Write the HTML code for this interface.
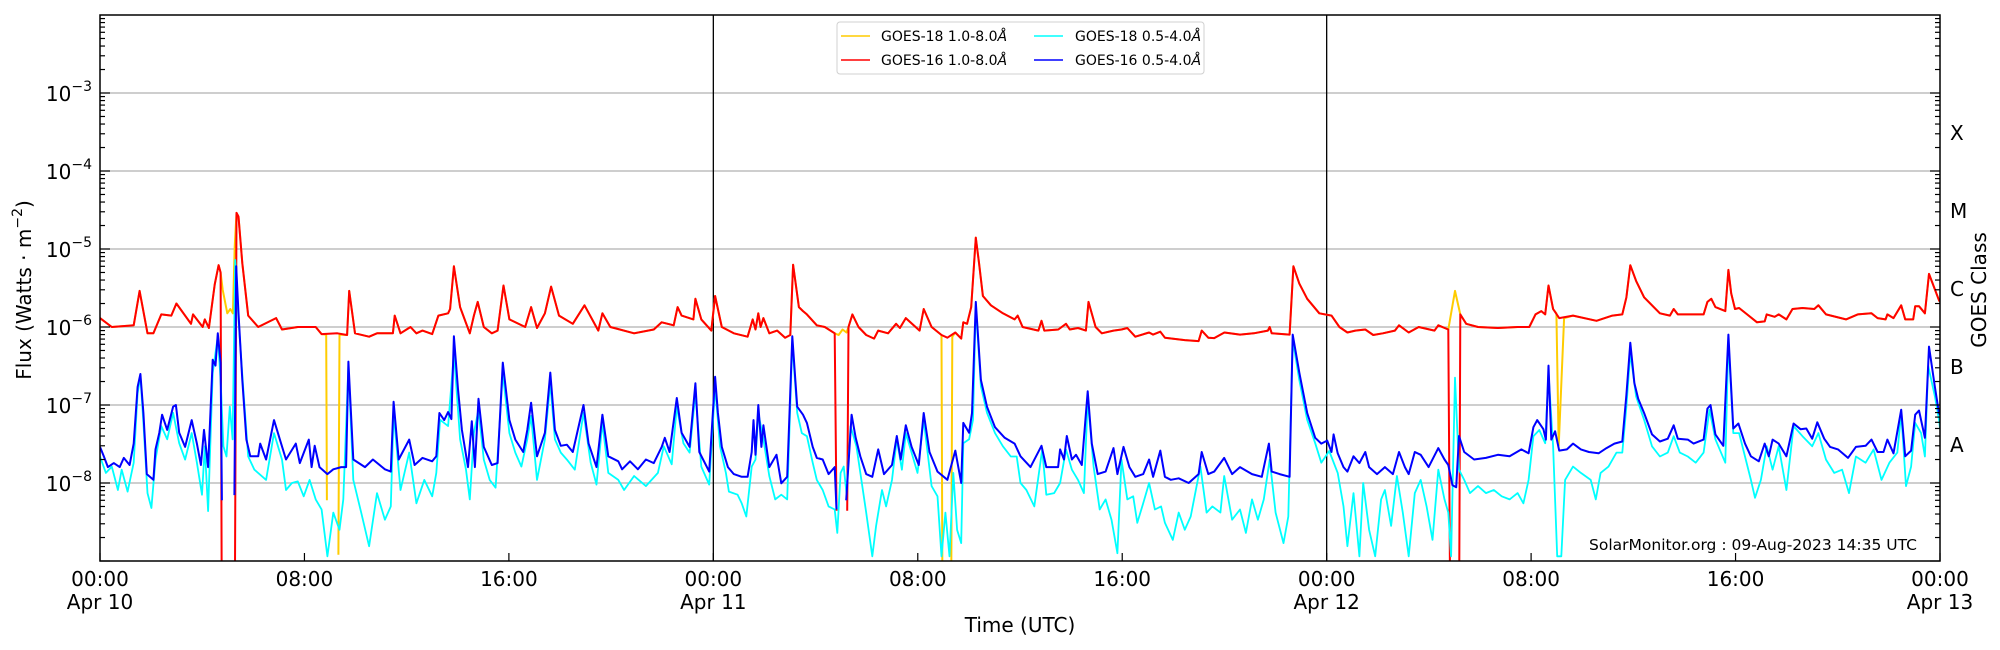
<!DOCTYPE html>
<html><head><meta charset="utf-8"><style>
html,body{margin:0;padding:0;background:#fff;}
svg{display:block;font-family:"DejaVu Sans","Liberation Sans",sans-serif;}
</style></head><body>
<svg id="chart" width="2000" height="650" viewBox="0 0 2000 650" xmlns="http://www.w3.org/2000/svg">
<defs><clipPath id="plotclip"><rect x="100" y="15" width="1840" height="546"/></clipPath></defs>
<rect x="0" y="0" width="2000" height="650" fill="#fff"/>
<g id="grid"></g>
<g id="series" clip-path="url(#plotclip)"></g>
<g id="axes"></g>
<text x="1020" y="632" font-size="20" text-anchor="middle">Time (UTC)</text>
<text transform="translate(31,290) rotate(-90)" font-size="20" text-anchor="middle">Flux (Watts · m<tspan dy="-9" font-size="14">−2</tspan><tspan dy="9">)</tspan></text>
<text transform="translate(1986,290) rotate(-90)" font-size="20" text-anchor="middle">GOES Class</text>
<text x="1917" y="550" font-size="15.5" text-anchor="end">SolarMonitor.org : 09-Aug-2023 14:35 UTC</text>
<g>
<rect x="837" y="22" width="367" height="52" fill="#fff" stroke="#d0d0d0" stroke-width="1" rx="3"/>
<line x1="841" y1="36" x2="870" y2="36" stroke="#ffcc00" stroke-width="1.5"/>
<text x="881" y="41" font-size="14">GOES-18 1.0-8.0<tspan font-style="italic">Å</tspan></text>
<line x1="841" y1="60" x2="870" y2="60" stroke="#ff0000" stroke-width="1.5"/>
<text x="881" y="65" font-size="14">GOES-16 1.0-8.0<tspan font-style="italic">Å</tspan></text>
<line x1="1034" y1="36" x2="1063" y2="36" stroke="#00ffff" stroke-width="1.5"/>
<text x="1075" y="41" font-size="14">GOES-18 0.5-4.0<tspan font-style="italic">Å</tspan></text>
<line x1="1034" y1="60" x2="1063" y2="60" stroke="#0000ff" stroke-width="1.5"/>
<text x="1075" y="65" font-size="14">GOES-16 0.5-4.0<tspan font-style="italic">Å</tspan></text>
</g>
</svg>
<script>
// ---- data (time in hours since 00:00 Apr 10) ----
const xTickHours = [0,8,16,24,32,40,48,56,64,72];
const xTickTimes = ["00:00","08:00","16:00","00:00","08:00","16:00","00:00","08:00","16:00","00:00"];
const xTickDates = ["Apr 10","","","Apr 11","","","Apr 12","","","Apr 13"];
const yTickExps = [-8,-7,-6,-5,-4,-3];
const classLabels = ["A","B","C","M","X"];
const classExps = [-8,-7,-6,-5,-4];
const dayLineHours = [24,48];

const g16LongT = [0,0.46,1.32,1.55,1.86,2.09,2.4,2.79,2.99,3.56,3.64,4.02,4.1,4.26,4.49,4.64,4.72,4.77,5.27,5.34,5.42,5.57,5.8,6.19,6.89,7.12,7.74,8.44,8.67,9.29,9.67,9.75,9.98,10.53,10.84,11.46,11.53,11.76,12.15,12.38,12.62,13.0,13.24,13.62,13.7,13.85,14.09,14.47,14.63,14.78,15.02,15.33,15.56,15.79,16.02,16.64,16.87,17.1,17.41,17.65,17.96,18.5,18.96,19.5,19.66,19.97,20.12,20.9,21.67,21.98,22.45,22.6,22.76,23.22,23.3,23.53,23.92,24.07,24.33,24.8,25.34,25.54,25.65,25.76,25.85,25.96,26.19,26.5,26.81,27.01,27.12,27.35,27.51,27.66,28.05,28.36,28.75,28.82,29.0,29.24,29.29,29.44,29.68,29.98,30.29,30.45,30.84,31.15,31.3,31.53,32.07,32.23,32.54,32.93,33.16,33.47,33.7,33.78,33.93,34.09,34.27,34.4,34.55,34.86,35.33,35.79,35.91,36.1,36.72,36.84,36.95,37.5,37.8,37.95,38.27,38.58,38.68,38.96,39.2,39.66,39.97,40.2,40.51,41.05,41.21,41.49,41.67,42.45,42.99,43.11,43.37,43.6,44.0,44.61,45.15,45.7,45.77,45.85,46.55,46.7,46.93,47.24,47.71,48.19,48.5,48.81,49.12,49.51,49.82,50.2,50.67,50.83,51.21,51.6,52.22,52.37,52.76,52.84,53.18,53.23,53.46,53.92,54.7,55.47,55.93,56.17,56.4,56.55,56.68,56.86,57.1,57.64,58.56,59.18,59.57,59.73,59.88,60.11,60.42,61.04,61.43,61.58,61.74,62.28,62.75,62.9,63.05,63.21,63.6,63.72,63.83,63.98,64.14,64.45,64.84,65.14,65.22,65.53,65.69,65.99,66.23,66.62,67.08,67.24,67.54,68.32,68.78,69.32,69.56,69.87,69.94,70.18,70.48,70.64,70.95,71.03,71.18,71.41,71.57,71.96,72];
const g16LongV = [1.3e-6,1.0e-6,1.05e-6,2.9e-6,8.3e-7,8.3e-7,1.45e-6,1.4e-6,2.0e-6,1.1e-6,1.45e-6,1.0e-6,1.25e-6,9.7e-7,3.5e-6,6.2e-6,5e-6,1e-10,1e-10,2.9e-5,2.6e-5,6.6e-6,1.4e-6,1e-6,1.3e-6,9.3e-7,1e-6,1e-6,8.1e-7,8.3e-7,7.9e-7,2.9e-6,8.3e-7,7.5e-7,8.3e-7,8.3e-7,1.4e-6,8.3e-7,1e-6,8.3e-7,9e-7,8.1e-7,1.4e-6,1.5e-6,1.7e-6,6.0e-6,1.8e-6,8.3e-7,1.4e-6,2.1e-6,1e-6,8.3e-7,9e-7,3.4e-6,1.25e-6,1e-6,1.8e-6,9.7e-7,1.5e-6,3.3e-6,1.4e-6,1.1e-6,1.9e-6,9e-7,1.5e-6,1e-6,9.7e-7,8.3e-7,9.3e-7,1.15e-6,1.05e-6,1.8e-6,1.4e-6,1.25e-6,2.3e-6,1.25e-6,9e-7,2.5e-6,1e-6,8.3e-7,7.5e-7,1.25e-6,9.3e-7,1.5e-6,1e-6,1.3e-6,8.3e-7,9e-7,7.3e-7,7.9e-7,6.3e-6,1.8e-6,1.6e-6,1.45e-6,1.05e-6,1e-6,8.3e-7,4.4e-9,null,4.4e-9,1e-6,1.45e-6,1e-6,7.9e-7,7.1e-7,9e-7,8.3e-7,1.1e-6,9.7e-7,1.3e-6,9e-7,1.7e-6,1e-6,7.9e-7,7.3e-7,8.5e-7,7.1e-7,1.15e-6,1.1e-6,1.8e-6,1.4e-5,6.5e-6,2.5e-6,1.9e-6,1.5e-6,1.25e-6,1.4e-6,1e-6,9e-7,1.2e-6,9e-7,9.3e-7,1.1e-6,9.3e-7,9.7e-7,9e-7,2.1e-6,1e-6,8.3e-7,9e-7,9.3e-7,9.7e-7,7.5e-7,8.5e-7,8e-7,8.7e-7,7.3e-7,6.8e-7,6.6e-7,9e-7,7.3e-7,7.2e-7,8.5e-7,8e-7,8.3e-7,9e-7,1e-6,8.3e-7,8e-7,6e-6,3.6e-6,2.3e-6,1.5e-6,1.4e-6,1e-6,8.5e-7,9e-7,9.3e-7,7.9e-7,8.3e-7,9e-7,1.05e-6,8.5e-7,1e-6,9e-7,1.05e-6,9.3e-7,1e-10,1e-10,1.45e-6,1.1e-6,1e-6,9.7e-7,1e-6,1e-6,1.45e-6,1.6e-6,1.45e-6,3.4e-6,1.7e-6,1.3e-6,1.4e-6,1.2e-6,1.4e-6,1.45e-6,2.4e-6,6.2e-6,3.9e-6,2.4e-6,1.5e-6,1.4e-6,1.7e-6,1.45e-6,1.45e-6,1.45e-6,2.1e-6,2.3e-6,1.8e-6,1.6e-6,5.4e-6,2.7e-6,1.7e-6,1.75e-6,1.45e-6,1.15e-6,1.18e-6,1.45e-6,1.35e-6,1.45e-6,1.25e-6,1.7e-6,1.75e-6,1.7e-6,1.9e-6,1.45e-6,1.25e-6,1.45e-6,1.5e-6,1.3e-6,1.25e-6,1.45e-6,1.3e-6,1.9e-6,1.25e-6,1.25e-6,1.85e-6,1.85e-6,1.5e-6,4.8e-6,2.2e-6,2.1e-6];

const g18LongT = [0,0.46,1.32,1.55,1.86,2.09,2.4,2.79,2.99,3.56,3.64,4.02,4.1,4.26,4.49,4.64,4.72,4.8,4.98,5.1,5.2,5.27,5.34,5.42,5.57,5.8,6.19,6.89,7.12,7.74,8.44,8.67,8.85,8.88,9.1,9.33,9.37,9.67,9.75,9.98,10.53,10.84,11.46,11.53,11.76,12.15,12.38,12.62,13.0,13.24,13.62,13.7,13.85,14.09,14.47,14.63,14.78,15.02,15.33,15.56,15.79,16.02,16.64,16.87,17.1,17.41,17.65,17.96,18.5,18.96,19.5,19.66,19.97,20.12,20.9,21.67,21.98,22.45,22.6,22.76,23.22,23.3,23.53,23.92,24.07,24.33,24.8,25.34,25.54,25.65,25.76,25.85,25.96,26.19,26.5,26.81,27.01,27.12,27.35,27.51,27.66,28.05,28.36,28.75,28.9,29.06,29.21,29.29,29.44,29.68,29.98,30.29,30.45,30.84,31.15,31.3,31.53,32.07,32.23,32.54,32.93,32.97,33.3,33.35,33.47,33.7,33.78,33.93,34.09,34.27,34.4,34.55,34.86,35.33,35.79,35.91,36.1,36.72,36.84,36.95,37.5,37.8,37.95,38.27,38.58,38.68,38.96,39.2,39.66,39.97,40.2,40.51,41.05,41.21,41.49,41.67,42.45,42.99,43.11,43.37,43.6,44.0,44.61,45.15,45.7,45.77,45.85,46.55,46.7,46.93,47.24,47.71,48.19,48.5,48.81,49.12,49.51,49.82,50.2,50.67,50.83,51.21,51.6,52.22,52.37,52.76,53.02,53.23,53.46,53.92,54.7,55.47,55.93,56.17,56.4,56.55,56.68,56.86,56.99,57.08,57.29,57.64,58.56,59.18,59.57,59.73,59.88,60.11,60.42,61.04,61.43,61.58,61.74,62.28,62.75,62.9,63.05,63.21,63.6,63.72,63.83,63.98,64.14,64.45,64.84,65.14,65.22,65.53,65.69,65.99,66.23,66.62,67.08,67.24,67.54,68.32,68.78,69.32,69.56,69.87,69.94,70.18,70.48,70.64,70.95,71.03,71.18,71.41,71.57,71.96,72];
const g18LongV = [1.3e-6,1.0e-6,1.05e-6,2.9e-6,8.3e-7,8.3e-7,1.45e-6,1.4e-6,2.0e-6,1.1e-6,1.45e-6,1.0e-6,1.25e-6,9.7e-7,3.5e-6,6.2e-6,5e-6,3e-6,1.5e-6,1.7e-6,1.5e-6,1.07e-5,2.9e-5,2.6e-5,6.6e-6,1.4e-6,1e-6,1.3e-6,9.3e-7,1e-6,1e-6,8.1e-7,8e-7,6e-9,null,1.2e-9,8e-7,7.9e-7,2.9e-6,8.3e-7,7.5e-7,8.3e-7,8.3e-7,1.4e-6,8.3e-7,1e-6,8.3e-7,9e-7,8.1e-7,1.4e-6,1.5e-6,1.7e-6,6.0e-6,1.8e-6,8.3e-7,1.4e-6,2.1e-6,1e-6,8.3e-7,9e-7,3.4e-6,1.25e-6,1e-6,1.8e-6,9.7e-7,1.5e-6,3.3e-6,1.4e-6,1.1e-6,1.9e-6,9e-7,1.5e-6,1e-6,9.7e-7,8.3e-7,9.3e-7,1.15e-6,1.05e-6,1.8e-6,1.4e-6,1.25e-6,2.3e-6,1.25e-6,9e-7,2.5e-6,1e-6,8.3e-7,7.5e-7,1.25e-6,9.3e-7,1.5e-6,1e-6,1.3e-6,8.3e-7,9e-7,7.3e-7,7.9e-7,6.3e-6,1.8e-6,1.6e-6,1.45e-6,1.05e-6,1e-6,8.3e-7,7.9e-7,9.3e-7,8.5e-7,1e-6,1.45e-6,1e-6,7.9e-7,7.1e-7,9e-7,8.3e-7,1.1e-6,9.7e-7,1.3e-6,9e-7,1.7e-6,1e-6,7.9e-7,1e-10,1e-10,7.5e-7,8.5e-7,7.1e-7,1.15e-6,1.1e-6,1.8e-6,1.4e-5,6.5e-6,2.5e-6,1.9e-6,1.5e-6,1.25e-6,1.4e-6,1e-6,9e-7,1.2e-6,9e-7,9.3e-7,1.1e-6,9.3e-7,9.7e-7,9e-7,2.1e-6,1e-6,8.3e-7,9e-7,9.3e-7,9.7e-7,7.5e-7,8.5e-7,8e-7,8.7e-7,7.3e-7,6.8e-7,6.6e-7,9e-7,7.3e-7,7.2e-7,8.5e-7,8e-7,8.3e-7,9e-7,1e-6,8.3e-7,8e-7,6e-6,3.6e-6,2.3e-6,1.5e-6,1.4e-6,1e-6,8.5e-7,9e-7,9.3e-7,7.9e-7,8.3e-7,9e-7,1.05e-6,8.5e-7,1e-6,9e-7,1.05e-6,9.3e-7,2.9e-6,1.45e-6,1.1e-6,1e-6,9.7e-7,1e-6,1e-6,1.45e-6,1.6e-6,1.45e-6,3.4e-6,1.7e-6,1.5e-6,3e-8,1.3e-6,1.4e-6,1.2e-6,1.4e-6,1.45e-6,2.4e-6,6.2e-6,3.9e-6,2.4e-6,1.5e-6,1.4e-6,1.7e-6,1.45e-6,1.45e-6,1.45e-6,2.1e-6,2.3e-6,1.8e-6,1.6e-6,5.4e-6,2.7e-6,1.7e-6,1.75e-6,1.45e-6,1.15e-6,1.18e-6,1.45e-6,1.35e-6,1.45e-6,1.25e-6,1.7e-6,1.75e-6,1.7e-6,1.9e-6,1.45e-6,1.25e-6,1.45e-6,1.5e-6,1.3e-6,1.25e-6,1.45e-6,1.3e-6,1.9e-6,1.25e-6,1.25e-6,1.85e-6,1.85e-6,1.5e-6,4.8e-6,2.2e-6,2.1e-6];

const g16ShortT = [0,0.15,0.31,0.54,0.77,0.93,1.16,1.32,1.47,1.58,1.7,1.83,2.09,2.17,2.32,2.43,2.63,2.86,2.97,3.1,3.33,3.59,3.79,3.95,4.07,4.23,4.41,4.52,4.61,4.72,4.77,5.0,5.26,5.33,5.42,5.57,5.73,5.88,6.19,6.27,6.5,6.81,7.04,7.28,7.66,7.82,8.17,8.28,8.4,8.59,8.9,9.13,9.44,9.63,9.72,9.91,10.37,10.68,11.15,11.38,11.49,11.69,12.1,12.31,12.62,13.0,13.16,13.28,13.47,13.62,13.75,13.85,14.01,14.16,14.4,14.55,14.67,14.81,15.02,15.33,15.56,15.76,16.02,16.25,16.56,16.72,16.87,17.1,17.41,17.62,17.8,18.03,18.27,18.5,18.92,19.12,19.43,19.66,19.89,20.28,20.43,20.74,21.05,21.36,21.67,21.98,22.1,22.29,22.57,22.76,23.07,23.3,23.45,23.84,24.07,24.18,24.33,24.57,24.8,25.11,25.34,25.5,25.57,25.65,25.76,25.88,25.96,26.19,26.47,26.66,26.89,27.09,27.28,27.51,27.66,27.89,28.05,28.28,28.51,28.75,28.82,29.0,29.2,29.41,29.57,29.75,29.98,30.22,30.45,30.68,30.99,31.18,31.33,31.53,31.76,32.04,32.23,32.46,32.77,33.16,33.47,33.7,33.78,34.01,34.12,34.27,34.47,34.71,35.02,35.4,35.79,36.02,36.41,36.84,37.03,37.49,37.57,37.72,37.83,38.03,38.19,38.42,38.65,38.81,39.04,39.35,39.66,39.81,40.05,40.28,40.51,40.82,41.05,41.21,41.49,41.67,41.9,42.21,42.6,42.99,43.11,43.37,43.6,43.99,44.3,44.61,45.08,45.46,45.74,45.85,46.16,46.55,46.67,46.93,47.24,47.55,47.79,48.02,48.19,48.27,48.43,48.66,48.81,49.05,49.28,49.51,49.66,49.97,50.28,50.59,50.83,51.06,51.21,51.45,51.68,51.99,52.37,52.61,52.76,52.92,53.07,53.18,53.38,53.77,54.23,54.7,55.16,55.62,55.9,56.09,56.24,56.48,56.58,56.68,56.79,56.94,57.1,57.4,57.64,57.95,58.26,58.64,58.95,59.26,59.57,59.73,59.88,60.04,60.19,60.42,60.73,61.04,61.35,61.58,61.74,62.13,62.36,62.75,62.9,63.02,63.21,63.52,63.72,63.91,64.11,64.37,64.6,64.91,65.14,65.3,65.45,65.69,65.99,66.27,66.54,66.77,67.0,67.2,67.47,67.7,68.01,68.4,68.71,69.09,69.32,69.56,69.79,69.94,70.18,70.48,70.64,70.87,71.03,71.18,71.41,71.57,71.8,71.96,72];
const g16ShortV = [2.9e-8,2.2e-8,1.6e-8,1.8e-8,1.6e-8,2.1e-8,1.7e-8,3.2e-8,1.7e-7,2.5e-7,7.9e-8,1.3e-8,1.1e-8,2.7e-8,4.4e-8,7.5e-8,4.8e-8,9.5e-8,1e-7,4.4e-8,2.9e-8,6.4e-8,3.2e-8,1.7e-8,4.8e-8,1.6e-8,3.8e-7,3.2e-7,8.3e-7,3.5e-7,6e-9,null,7e-9,6e-6,1.5e-6,2.1e-7,3.6e-8,2.2e-8,2.2e-8,3.2e-8,2e-8,6.4e-8,3.6e-8,2e-8,3.2e-8,1.8e-8,3.6e-8,1.6e-8,3e-8,1.6e-8,1.3e-8,1.5e-8,1.6e-8,1.6e-8,3.6e-7,2e-8,1.6e-8,2e-8,1.5e-8,1.4e-8,1.1e-7,2e-8,3.6e-8,1.7e-8,2.1e-8,1.9e-8,2.2e-8,7.9e-8,6.4e-8,8.1e-8,6.6e-8,7.6e-7,1.6e-7,4.8e-8,1.6e-8,6.2e-8,1.6e-8,1.2e-7,2.9e-8,1.7e-8,1.8e-8,3.5e-7,6.4e-8,3.6e-8,2.5e-8,4.8e-8,1.07e-7,2.2e-8,4.4e-8,2.6e-7,4.8e-8,3e-8,3.1e-8,2.5e-8,1e-7,3.2e-8,1.6e-8,7.5e-8,2.2e-8,1.9e-8,1.5e-8,1.9e-8,1.5e-8,2e-8,1.8e-8,2.9e-8,3.8e-8,2.5e-8,1.23e-7,4.4e-8,2.9e-8,1.9e-7,2.5e-8,1.4e-8,2.3e-7,7.9e-8,2.9e-8,1.6e-8,1.3e-8,1.2e-8,1.2e-8,2.5e-8,6.4e-8,2.3e-8,1e-7,2.9e-8,5.5e-8,1.6e-8,2.3e-8,9.9e-9,1.2e-8,7.6e-7,9.5e-8,7.5e-8,5.9e-8,2.9e-8,2.1e-8,2e-8,1.3e-8,1.6e-8,4.6e-9,null,6e-9,7.5e-8,3.8e-8,2.2e-8,1.3e-8,1.2e-8,2.7e-8,1.3e-8,1.7e-8,4e-8,2e-8,5.5e-8,2.9e-8,1.7e-8,7.9e-8,2.5e-8,1.4e-8,1.1e-8,2.6e-8,1e-8,5.9e-8,4.4e-8,7.9e-8,2.1e-6,2.1e-7,9.5e-8,5.2e-8,3.8e-8,3.2e-8,2.2e-8,1.6e-8,3e-8,1.6e-8,1.6e-8,2.7e-8,2e-8,4e-8,2e-8,2.3e-8,1.7e-8,1.5e-7,3.2e-8,1.3e-8,1.4e-8,2.8e-8,1.3e-8,2.9e-8,1.6e-8,1.2e-8,1.3e-8,2e-8,1.2e-8,2.6e-8,1.2e-8,1.1e-8,1.15e-8,1e-8,1.3e-8,2.5e-8,1.3e-8,1.4e-8,2.1e-8,1.3e-8,1.6e-8,1.3e-8,1.2e-8,3.2e-8,1.4e-8,1.3e-8,1.2e-8,8e-7,2.6e-7,7.9e-8,3.8e-8,3.2e-8,3.5e-8,2.5e-8,4.2e-8,2.4e-8,1.6e-8,1.4e-8,2.2e-8,1.8e-8,2.5e-8,1.6e-8,1.3e-8,1.6e-8,1.3e-8,2.5e-8,1.6e-8,1.3e-8,2.5e-8,2.3e-8,1.6e-8,2.8e-8,2e-8,1.7e-8,9.4e-9,8.8e-9,4e-8,2.5e-8,2e-8,2.1e-8,2.3e-8,2.2e-8,2.7e-8,2.4e-8,5.2e-8,6.4e-8,4.9e-8,3.6e-8,3.2e-7,3.6e-8,4.6e-8,2.6e-8,2.7e-8,3.2e-8,2.7e-8,2.5e-8,2.4e-8,2.8e-8,3.2e-8,3.4e-8,1.35e-7,6.3e-7,1.9e-7,1.2e-7,7.9e-8,4.2e-8,3.4e-8,3.7e-8,5.5e-8,3.7e-8,3.6e-8,3.2e-8,3.6e-8,9e-8,1e-7,4.2e-8,3e-8,8e-7,5e-8,5.8e-8,3.2e-8,2.2e-8,1.9e-8,3.2e-8,2.2e-8,3.6e-8,3.2e-8,2.2e-8,5.8e-8,4.9e-8,5e-8,3.7e-8,6e-8,3.7e-8,2.9e-8,2.7e-8,2.1e-8,2.9e-8,3e-8,3.6e-8,2.5e-8,2.5e-8,3.6e-8,2.4e-8,8.7e-8,2.2e-8,2.6e-8,7.5e-8,8.5e-8,3.8e-8,5.6e-7,1.7e-7,7.9e-8,7.5e-8];

const g18ShortT = [0,0.23,0.46,0.7,0.85,1.08,1.32,1.47,1.58,1.7,1.86,2.01,2.17,2.4,2.63,2.86,3.1,3.33,3.59,3.79,3.99,4.1,4.23,4.41,4.61,4.72,4.83,4.95,5.08,5.19,5.29,5.42,5.6,5.8,6.04,6.5,6.81,7.12,7.28,7.51,7.74,7.97,8.2,8.44,8.67,8.9,9.13,9.37,9.52,9.72,9.91,10.22,10.53,10.84,11.15,11.38,11.49,11.76,12.1,12.38,12.69,13.0,13.16,13.31,13.62,13.85,14.09,14.32,14.47,14.63,14.81,15.02,15.25,15.48,15.76,16.02,16.25,16.49,16.72,16.87,17.1,17.41,17.62,17.8,18.03,18.27,18.58,18.92,19.2,19.43,19.66,19.89,20.28,20.51,20.9,21.36,21.83,22.06,22.37,22.57,22.83,23.07,23.3,23.53,23.84,24.07,24.26,24.49,24.61,24.95,25.11,25.29,25.5,25.65,25.76,25.96,26.19,26.42,26.66,26.89,27.09,27.28,27.46,27.66,27.89,28.05,28.28,28.51,28.75,28.85,28.98,29.1,29.21,29.37,29.6,29.83,29.98,30.22,30.37,30.6,30.76,30.99,31.18,31.38,31.53,31.76,31.99,32.23,32.54,32.77,32.93,33.08,33.24,33.39,33.54,33.7,33.78,34.01,34.16,34.27,34.47,34.71,35.02,35.33,35.64,35.87,36.02,36.25,36.56,36.87,37.03,37.34,37.57,37.8,38.03,38.27,38.5,38.65,38.88,39.12,39.35,39.58,39.81,39.97,40.2,40.43,40.59,40.82,41.05,41.28,41.52,41.67,41.98,42.21,42.45,42.68,43.06,43.3,43.53,43.84,43.99,44.3,44.61,44.84,45.08,45.31,45.54,45.77,46.0,46.31,46.5,46.67,46.93,47.24,47.55,47.79,48.1,48.43,48.66,48.81,49.05,49.28,49.43,49.66,49.9,50.13,50.28,50.52,50.75,50.98,51.21,51.45,51.68,51.91,52.14,52.37,52.61,52.76,52.87,53.02,53.18,53.38,53.61,53.92,54.23,54.54,54.85,55.16,55.47,55.7,55.9,56.09,56.32,56.55,56.68,56.86,57.02,57.18,57.33,57.64,57.95,58.33,58.53,58.72,59.03,59.34,59.57,59.73,59.88,60.11,60.42,60.73,61.04,61.35,61.58,61.82,62.13,62.44,62.75,62.98,63.21,63.6,63.72,63.91,64.14,64.37,64.6,64.76,64.99,65.22,65.45,65.69,65.99,66.27,66.62,67.0,67.24,67.54,67.86,68.17,68.44,68.71,69.09,69.4,69.71,70.02,70.33,70.48,70.67,70.87,71.03,71.26,71.41,71.54,71.8,71.96,72];
const g18ShortLog = [-7.66,-7.87,-7.79,-8.09,-7.83,-8.11,-7.74,-6.85,-6.63,-7.23,-8.13,-8.32,-7.7,-7.27,-7.44,-7.1,-7.49,-7.7,-7.36,-7.74,-8.15,-7.53,-8.36,-6.59,-6.12,-6.68,-7.53,-7.66,-7.02,-7.44,-5.14,-5.9,-6.76,-7.66,-7.83,-7.96,-7.36,-7.7,-8.09,-8.0,-7.98,-8.17,-7.96,-8.21,-8.34,-8.94,-8.38,-8.6,-8.21,-6.5,-7.96,-8.38,-8.81,-8.13,-8.47,-8.3,-7.1,-8.09,-7.61,-8.26,-7.96,-8.17,-7.87,-7.19,-7.27,-6.33,-7.44,-7.83,-8.21,-7.36,-7.06,-7.7,-7.96,-8.06,-6.59,-7.36,-7.61,-7.79,-7.44,-7.14,-7.96,-7.44,-6.72,-7.44,-7.61,-7.7,-7.83,-7.1,-7.74,-8.02,-7.23,-7.87,-7.96,-8.09,-7.91,-8.04,-7.87,-7.53,-7.76,-7.02,-7.49,-7.61,-6.85,-7.79,-8.02,-6.76,-7.53,-7.87,-8.11,-8.15,-8.26,-8.43,-7.79,-7.7,-7.1,-7.44,-7.91,-8.21,-8.15,-8.21,-6.2,-7.1,-7.36,-7.4,-7.74,-7.96,-8.09,-8.3,-8.34,-8.64,-7.87,-7.79,-8.13,-7.27,-7.53,-8.04,-8.38,-8.94,-8.55,-8.09,-8.3,-7.96,-7.44,-7.83,-7.36,-7.61,-7.87,-7.19,-8.04,-8.17,-8.94,-8.38,-8.94,-7.87,-8.6,-8.77,-7.49,-7.44,-7.19,-5.73,-6.76,-7.1,-7.36,-7.53,-7.66,-7.66,-8.0,-8.09,-8.3,-7.57,-8.15,-8.13,-8.0,-7.57,-7.83,-7.96,-8.13,-6.93,-7.79,-8.34,-8.21,-8.47,-8.9,-7.7,-8.21,-8.17,-8.51,-8.26,-8.0,-8.34,-8.3,-8.51,-8.73,-8.38,-8.6,-8.43,-7.79,-8.38,-8.3,-8.38,-7.91,-8.47,-8.34,-8.64,-8.21,-8.47,-8.21,-7.7,-8.38,-8.77,-8.43,-6.16,-6.68,-7.19,-7.49,-7.74,-7.59,-7.87,-8.3,-8.81,-8.13,-8.94,-8.0,-8.6,-8.94,-8.21,-8.09,-8.55,-7.91,-8.38,-8.94,-8.13,-7.96,-8.3,-8.73,-7.83,-8.21,-8.38,-8.94,-6.65,-7.83,-7.96,-8.13,-8.04,-8.13,-8.09,-8.17,-8.21,-8.13,-8.26,-7.96,-7.4,-7.32,-7.49,-6.59,-7.53,-8.94,-8.94,-7.96,-7.79,-7.87,-7.96,-8.21,-7.87,-7.79,-7.61,-7.61,-7.02,-6.33,-6.89,-7.19,-7.53,-7.66,-7.61,-7.4,-7.61,-7.66,-7.74,-7.61,-7.06,-7.44,-7.74,-6.16,-7.36,-7.36,-7.66,-7.96,-8.19,-7.96,-7.53,-7.83,-7.53,-8.09,-7.27,-7.4,-7.53,-7.36,-7.7,-7.87,-7.83,-8.13,-7.66,-7.74,-7.57,-7.96,-7.74,-7.61,-7.1,-8.04,-7.79,-7.23,-7.36,-7.66,-6.5,-6.89,-7.19,-7.3];

// ---- axes ----
const PX0=100, PX1=1940, PY0=15, PY1=561, HMAX=72, LMIN=-9, LMAX=-2;
function xScale(h){ return PX0 + (h/HMAX)*(PX1-PX0); }
function yScaleLog(l){ return PY1 - (l-LMIN)/(LMAX-LMIN)*(PY1-PY0); }
function yScale(v){ return yScaleLog(Math.log10(v)); }

const NS="http://www.w3.org/2000/svg";
function mk(tag, attrs, parent){ const e=document.createElementNS(NS,tag); for(const k in attrs) e.setAttribute(k,attrs[k]); parent.appendChild(e); return e; }

const grid=document.getElementById('grid'), axes=document.getElementById('axes'), series=document.getElementById('series');

yTickExps.forEach(e=>{
  const y=yScaleLog(e);
  const gl=mk('line',{x1:PX0,x2:PX1,y1:y,y2:y,stroke:'#b0b0b0','stroke-width':1.3},grid);
  
  
  const t=mk('text',{x:92,y:y+8,'font-size':20,'text-anchor':'end'},axes);
  
  
  t.appendChild(document.createTextNode('10'));
  const s=mk('tspan',{dy:-10,'font-size':14},t); s.textContent='−'+Math.abs(e);
});
dayLineHours.forEach(h=>{
  const x=xScale(h);
  const dl=mk('line',{x1:x,x2:x,y1:PY0,y2:PY1,stroke:'#000','stroke-width':1.3},grid);
  
  
});

for(let e=LMIN;e<LMAX;e++){
  for(let m=1;m<10;m++){
    const y=yScale(m*Math.pow(10,e));
    const len = m===1?10:5;
    mk('line',{x1:PX0,x2:PX0+len,y1:y,y2:y,stroke:'#000','stroke-width':1.2},axes);
    mk('line',{x1:PX1,x2:PX1-len,y1:y,y2:y,stroke:'#000','stroke-width':1.2},axes);
  }
}
xTickHours.forEach((h,i)=>{
  const x=xScale(h);
  mk('line',{x1:x,x2:x,y1:PY1,y2:PY1-8,stroke:'#000','stroke-width':1.2},axes);
  const t=mk('text',{x:x,y:586,'font-size':20,'text-anchor':'middle'},axes);
  
  
  t.textContent=xTickTimes[i];
  if(xTickDates[i]){
    const d=mk('text',{x:x,y:609,'font-size':20,'text-anchor':'middle'},axes);
    
    
    d.textContent=xTickDates[i];
  }
});
classLabels.forEach((c,i)=>{
  const y=yScaleLog(classExps[i]+0.5);
  const t=mk('text',{x:1950,y:y+8,'font-size':20},axes);
  
  
  t.textContent=c;
});
const frame=mk('rect',{x:PX0,y:PY0,width:PX1-PX0,height:PY1-PY0,fill:'none',stroke:'#000','stroke-width':1.5},axes);



function pathFrom(T,Y){
  let d='', pen=false;
  for(let i=0;i<T.length;i++){
    if(Y[i]===null){ pen=false; continue; }
    d += (pen?'L':'M') + xScale(T[i]).toFixed(1) + ',' + Y[i].toFixed(1);
    pen=true;
  }
  return d;
}
const yellowPath=mk('path',{d:pathFrom(g18LongT,g18LongV.map(v=>v===null?null:yScale(v))),fill:'none',stroke:'#ffcc00','stroke-width':2,'stroke-linejoin':'round'},series);


const redPath=mk('path',{d:pathFrom(g16LongT,g16LongV.map(v=>v===null?null:yScale(v))),fill:'none',stroke:'#ff0000','stroke-width':2,'stroke-linejoin':'round'},series);


const cyanPath=mk('path',{d:pathFrom(g18ShortT,g18ShortLog.map(l=>yScaleLog(l))),fill:'none',stroke:'#00ffff','stroke-width':1.8,'stroke-linejoin':'round'},series);


const bluePath=mk('path',{d:pathFrom(g16ShortT,g16ShortV.map(v=>v===null?null:yScale(v))),fill:'none',stroke:'#0000ff','stroke-width':2,'stroke-linejoin':'round'},series);


</script>
</body></html>
